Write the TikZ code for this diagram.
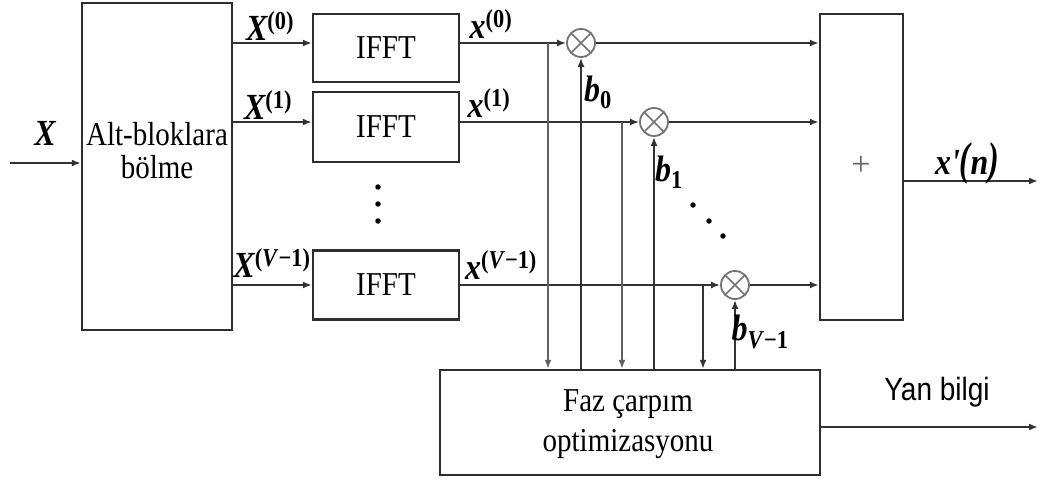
\documentclass[tikz,border=0pt]{standalone}
\usepackage{fontspec}
\setmainfont{Liberation Serif}
\newfontfamily\arialfont{Liberation Sans}
\usetikzlibrary{arrows.meta}
\newcommand{\vst}[1]{\scalebox{1}[1.15]{#1}}
\begin{document}
\begin{tikzpicture}[x=1pt,y=-1pt,
  ln/.style={draw=black!80, line width=2pt},
  tap/.style={draw=black!62, line width=2pt, -{Latex[length=9pt,width=7pt]}},
  arr/.style={ln,-{Latex[length=9pt,width=7pt]}},
  blk/.style={draw=black!82, line width=2.4pt, rectangle, inner sep=0pt},
  mul/.style={circle, draw=black!55, line width=1.8pt, minimum size=28pt, inner sep=0pt,
    path picture={\draw[black!55,line width=1.5pt]
      (path picture bounding box.north west)--(path picture bounding box.south east)
      (path picture bounding box.north east)--(path picture bounding box.south west);}},
  txt/.style={font=\fontsize{29}{34}\selectfont, inner sep=0pt, align=center},
  lab/.style={font=\fontsize{32}{34}\selectfont\bfseries\itshape, inner sep=0pt},
  dotn/.style={circle, fill=black, inner sep=0pt, minimum size=5.5pt}
]
\useasboundingbox (0,0) rectangle (1048,481);

% blocks
\node[blk, minimum width=150pt, minimum height=327pt] (alt) at (157,166.5) {};
\node[txt, font=\fontsize{29}{33}\selectfont] (altt) at (157,151) {\vst{Alt-bloklara}\\\vst{bölme}};
\node[blk, txt, minimum width=146pt, minimum height=68pt] (f0) at (386,48) {\vst{IFFT}};
\node[blk, txt, minimum width=146pt, minimum height=70pt] (f1) at (386,127) {\vst{IFFT}};
\node[blk, txt, minimum width=146pt, minimum height=69pt] (f2) at (386,285) {\vst{IFFT}};
\node[blk, minimum width=83pt, minimum height=306pt] (sum) at (861.5,167) {};
\node[font=\fontsize{34}{34}\selectfont, text=black!60, inner sep=0pt] (plus) at (861,166) {+};
\node[blk, minimum width=380pt, minimum height=105pt] (faz) at (630,422.5) {};
\node[txt, font=\fontsize{29}{40}\selectfont] (fazt) at (628,424) {\vst{Faz çarpım}\\\vst{optimizasyonu}};

% multipliers
\node[mul] (m0) at (581,43) {};
\node[mul] (m1) at (654,122) {};
\node[mul] (m2) at (735,285) {};

% row coordinates
\coordinate (in) at (10,163);
\coordinate (y0) at (0,43);
\coordinate (y1) at (0,122);
\coordinate (y2) at (0,285);
\coordinate (t0) at (548,43);
\coordinate (t1) at (622,122);
\coordinate (t2) at (703,285);
\coordinate (o1) at (1038,181);
\coordinate (o2) at (1038,427);

% connectors
\draw[arr] (in) -- (alt.west |- in);
\draw[arr] (alt.east |- y0) -- (f0.west |- y0);
\draw[arr] (alt.east |- y1) -- (f1.west |- y1);
\draw[arr] (alt.east |- y2) -- (f2.west |- y2);
\draw[arr] (f0.east |- y0) -- (m0.west);
\draw[arr] (f1.east |- y1) -- (m1.west);
\draw[arr] (f2.east |- y2) -- (m2.west);
\draw[arr] (m0.east) -- (sum.west |- y0);
\draw[arr] (m1.east) -- (sum.west |- y1);
\draw[arr] (m2.east) -- (sum.west |- y2);
\draw[tap] (t0) -- (t0 |- faz.north);
\draw[tap] (t1) -- (t1 |- faz.north);
\draw[arr] (t2) -- (t2 |- faz.north);
\draw[arr] (m0.south |- faz.north) -- (m0.south);
\draw[arr] (m1.south |- faz.north) -- (m1.south);
\draw[arr] (m2.south |- faz.north) -- (m2.south);
\draw[arr] (sum.east |- o1) -- (o1);
\draw[arr] (faz.east |- o2) -- (o2);

% labels
\node[lab] (lX) at (45,133) {\vst{X}};
\node[lab] (lX0) at (270,26) {\vst{X\textsuperscript{\upshape(0)}}};
\node[lab] (lX1) at (268,105) {\vst{X\textsuperscript{\upshape(1)}}};
\node[lab] (lX2) at (272,263) {\vst{X\textsuperscript{\upshape(\textit{V}−1)}}};
\node[lab] (lx0) at (491,24) {\vst{x\textsuperscript{\upshape(0)}}};
\node[lab] (lx1) at (489,103) {\vst{x\textsuperscript{\upshape(1)}}};
\node[lab] (lx2) at (501,265) {\vst{x\textsuperscript{\upshape(\textit{V}−1)}}};
\node[lab] (lb0) at (598,92) {\vst{b\textsubscript{\upshape 0}}};
\node[lab] (lb1) at (669,172) {\vst{b\textsubscript{\upshape 1}}};
\node[lab] (lb2) at (760,332) {\vst{b\textsubscript{\upshape\textit{V}−1}}};
\node[lab] (lxn) at (967,163) {\vst{x\textquotesingle\scalebox{1}[1.25]{(}n\scalebox{1}[1.25]{)}}};
\node[font=\arialfont\fontsize{28}{30}\selectfont, inner sep=0pt] (yan) at (937,392) {\vst{Yan bilgi}};

% dots
\node[dotn] (d1) at (378,187) {};
\node[dotn] (d2) at (378,204) {};
\node[dotn] (d3) at (378,221) {};
\node[dotn] (e1) at (693,205) {};
\node[dotn] (e2) at (709,221) {};
\node[dotn] (e3) at (723,236) {};
\end{tikzpicture}
\end{document}
